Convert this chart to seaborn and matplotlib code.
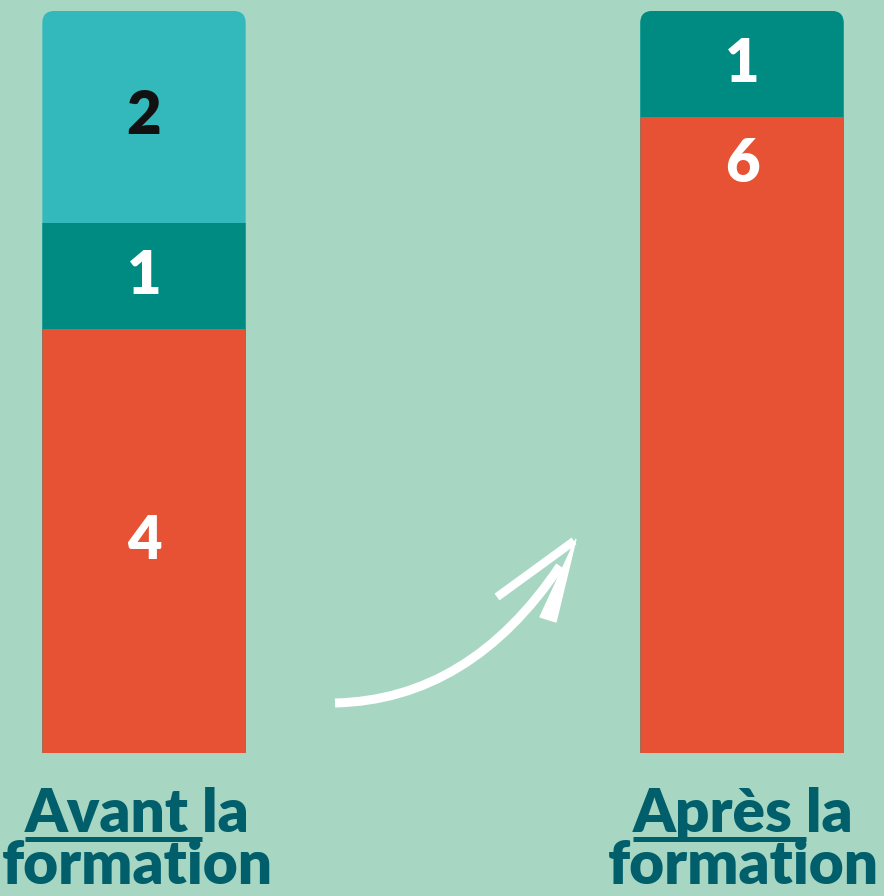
import matplotlib
matplotlib.use("Agg")
import matplotlib.pyplot as plt
import seaborn as sns
import pandas as pd
import numpy as np
from matplotlib.patches import FancyBboxPatch, Polygon
from matplotlib.path import Path
from matplotlib.patches import PathPatch

# ---------------- data ----------------
categories = ["Avant la formation", "Après la formation"]
label_first = ["Avant", "Après"]
seg_red = [4, 6]        # bottom segment
seg_dark = [1, 1]       # middle segment
seg_light = [2, 0]      # top segment

BG = "#a7d6c3"
C_RED = "#e85234"
C_DARK = "#008b82"
C_LIGHT = "#33b8bb"
C_TXT = "#005f6b"

sns.set_theme(style="white")
plt.rcParams["font.family"] = ["Lato", "DejaVu Sans"]

fig = plt.figure(figsize=(8.84, 8.96), dpi=100, facecolor=BG)
ax = fig.add_axes([0, 0, 1, 1])
ax.set_facecolor(BG)

red = np.array(seg_red, float)
dark = np.array(seg_dark, float)
light = np.array(seg_light, float)
cum_dark = red + dark
cum_top = cum_dark + light

W = 0.34
layers = [(cum_top, C_LIGHT), (cum_dark, C_DARK), (red, C_RED)]
for vals, col in layers:
    df = pd.DataFrame({"cat": categories, "v": vals})
    sns.barplot(data=df, x="cat", y="v", order=categories, color=col,
                width=W, saturation=1, ax=ax, linewidth=0, errorbar=None)

ppu_x = 598.0
ppu_y = 106.0
ax.set_xlim(-144 / ppu_x, -144 / ppu_x + 884 / ppu_x)
ax.set_ylim(-(896 - 753) / ppu_y, 753 / ppu_y)
ax.axis("off")

# rounded top corners via clip paths
clips = []
for i, tot in enumerate(cum_top):
    fb = FancyBboxPatch((i - W / 2, -1), W, tot + 1,
                        boxstyle="round,pad=0,rounding_size=%f" % (12 / ppu_x),
                        mutation_aspect=ppu_x / ppu_y,
                        transform=ax.transData, facecolor="none", edgecolor="none")
    clips.append(fb)
for p in ax.patches:
    xc = p.get_x() + p.get_width() / 2
    i = int(round(xc))
    p.set_clip_path(clips[i])

# segment value labels
num_kw = dict(ha="center", va="center", fontsize=43, fontweight="heavy")
for i in range(len(categories)):
    if seg_red[i] > 0:
        y = red[i] / 2 if i == 0 else red[i] - 0.45
        ax.text(i, y, str(seg_red[i]), color="white", **num_kw)
    if seg_dark[i] > 0:
        ax.text(i, red[i] + dark[i] / 2, str(seg_dark[i]), color="white", **num_kw)
    if seg_light[i] > 0:
        ax.text(i, cum_dark[i] + light[i] / 2, str(seg_light[i]), color="#111111", **num_kw)

# category labels with partial underline
renderer = fig.canvas.get_renderer()
FS = 43.5
label_shift = [-7, 1]
lab_kw = dict(ha="center", va="baseline", fontsize=FS, fontweight="heavy", color=C_TXT)
for i, cat in enumerate(categories):
    xpix = ax.transData.transform((i, 0))[0] + label_shift[i]
    xf = xpix / 884
    first, second = label_first[i] + " la", "formation"
    t1 = fig.text(xf, 1 - 832 / 896, first, **lab_kw)
    fig.text(xf, 1 - 884 / 896, second, **lab_kw)
    bb = t1.get_window_extent(renderer)
    tmp = fig.text(0, 0, label_first[i], fontsize=FS, fontweight="heavy")
    wword = tmp.get_window_extent(renderer).width
    tmp.remove()
    x0 = bb.x0 / 884
    x1 = (bb.x0 + wword + 13) / 884
    yul = 1 - 839 / 896
    fig.add_artist(plt.Line2D([x0, x1], [yul, yul], color=C_TXT, lw=3.6,
                              solid_capstyle="butt", transform=fig.transFigure))

# hand-drawn style arrow (decoration) in pixel coordinates
ov = fig.add_axes([0, 0, 1, 1])
ov.set_xlim(0, 884)
ov.set_ylim(896, 0)
ov.axis("off")
ov.patch.set_alpha(0)
verts = [(335, 703), (470, 700), (560, 566)]
pp = PathPatch(Path(verts, [Path.MOVETO, Path.CURVE3, Path.CURVE3]),
               facecolor="none", edgecolor="white", lw=6.5, capstyle="butt")
ov.add_patch(pp)
ov.plot([497, 574], [597, 541], color="white", lw=6, solid_capstyle="butt")
ov.add_patch(Polygon([(576, 539), (556, 622), (540, 617)], closed=True,
                     facecolor="white", edgecolor="white", lw=1))

fig.savefig("out.png", dpi=100, facecolor=BG)
